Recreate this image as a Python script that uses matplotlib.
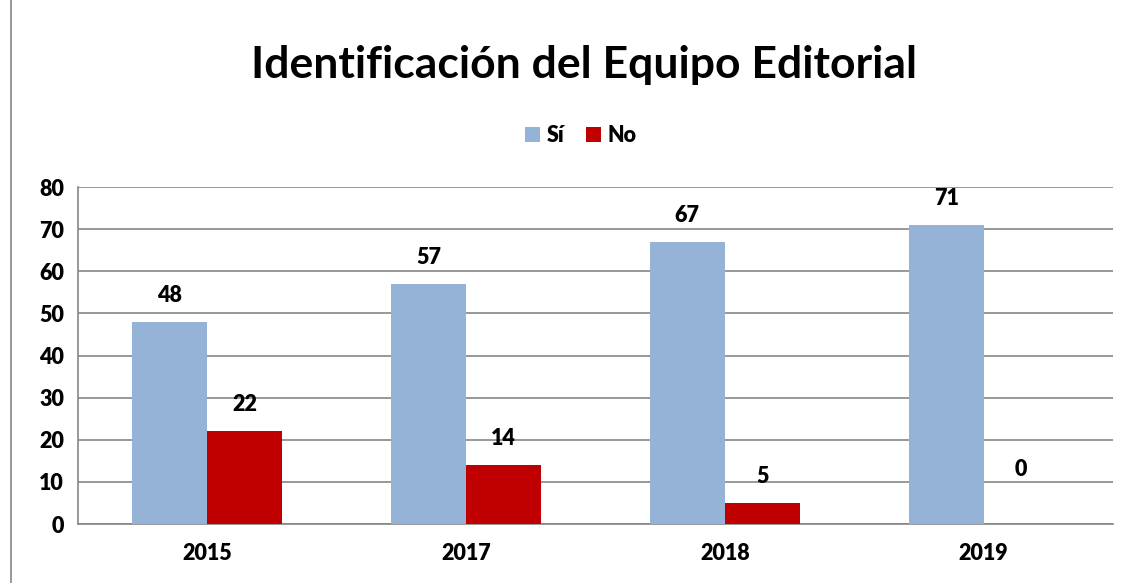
import numpy as np
import matplotlib.pyplot as plt
from matplotlib.lines import Line2D

years = ["2015", "2017", "2018", "2019"]
si = [48, 57, 67, 71]
no = [22, 14, 5, 0]

plt.rcParams['font.family'] = ['Lato', 'DejaVu Sans']
plt.rcParams['font.weight'] = 'heavy'

fig = plt.figure(figsize=(11.32, 5.83), dpi=100)
ax = fig.add_axes([0.0689, 0.1012, 0.9143, 0.578])

x = np.arange(len(years))
w = 0.29
b1 = ax.bar(x - w / 2, si, w, color='#95B3D7', label='Sí', zorder=3)
b2 = ax.bar(x + w / 2, no, w, color='#C00000', label='No', zorder=3)

for bars in (b1, b2):
    for r in bars:
        h = r.get_height()
        off = 19 if h > 0 else 39
        ax.annotate(f"{int(h)}", (r.get_x() + r.get_width() / 2, h),
                    xytext=(0, off), textcoords='offset points',
                    ha='center', va='center', fontsize=15.5, fontweight='heavy')

ax.set_xlim(-0.5, len(years) - 0.5)
ax.set_ylim(0, 80)
ax.set_yticks(range(0, 81, 10))
ax.set_xticks(x)
ax.set_xticklabels(years)
ax.yaxis.grid(True, color='#868686', linewidth=1.2, zorder=0)
ax.tick_params(length=0, labelsize=15.5, pad=10)
ax.tick_params(axis='x', pad=14)
for lab in ax.get_xticklabels() + ax.get_yticklabels():
    lab.set_fontweight('heavy')
for s in ('top', 'right'):
    ax.spines[s].set_visible(False)
ax.spines['left'].set_color('#868686')
ax.spines['bottom'].set_color('#868686')
ax.spines['left'].set_linewidth(1.2)
ax.spines['bottom'].set_linewidth(1.2)

fig.text(0.516, 0.889, "Identificación del Equipo Editorial",
         ha='center', va='center', fontsize=32, fontweight='bold')
fig.legend(handles=[b1, b2], loc='center', bbox_to_anchor=(0.513, 0.768),
           ncol=2, frameon=False, handlelength=0.7,
           handleheight=0.7, handletextpad=0.3, columnspacing=1.0,
           prop={'weight': 'heavy', 'size': 15.5})

# page border line on the left
fig.add_artist(Line2D([0.0093, 0.0093], [0, 1], color='#868686', linewidth=1.2))

fig.savefig('out.png', dpi=100)
